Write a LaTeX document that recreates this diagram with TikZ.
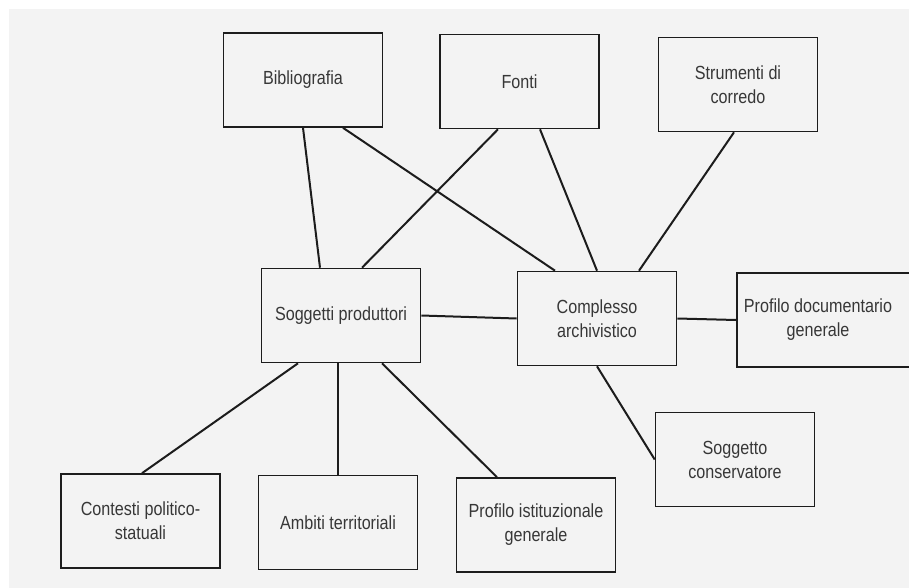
\documentclass[tikz,border=0pt]{standalone}
\usepackage{fontspec}
\setmainfont{Liberation Sans}[FakeStretch=0.85]
\definecolor{bgc}{RGB}{243,243,243}
\definecolor{linec}{RGB}{28,28,28}
\definecolor{textc}{RGB}{55,55,55}
\begin{document}
\begin{tikzpicture}[x=1pt,y=-1pt,
  box/.style={draw=linec, line width=1.6pt, minimum width=159pt, minimum height=94pt,
              inner sep=0pt, align=center, text=textc, font=\fontsize{19}{24}\selectfont},
  txt/.style={inner sep=0pt, align=center, text=textc, font=\fontsize{19}{24}\selectfont},
  link/.style={draw=linec, line width=2pt}]
\useasboundingbox (0,0) rectangle (909,588);
\fill[white] (0,0) rectangle (909,588);
\fill[bgc] (9,9) rectangle (909,588);
\begin{scope}
\clip (0,0) rectangle (909,588);
% top row
\node[box] (bib) at (303,80) {Bibliografia};
\node[box] (fonti) at (519.5,81.5) {Fonti};
\node[box] (strum) at (738,84.5) {Strumenti di\\corredo};
% middle row
\node[box] (sogg) at (341,315.5) {Soggetti produttori};
\node[box] (compl) at (597,318.5) {Complesso\\archivistico};
\node[box, minimum width=200pt, anchor=west] (pdoc) at (736,320) {};
\node[txt] (pdoct) at (818,320) {Profilo documentario\\generale};
% lower
\node[box] (scons) at (735,459.5) {Soggetto\\conservatore};
\node[box] (cont) at (140.5,521) {Contesti politico-\\statuali};
\node[box] (ambiti) at (338,522.5) {Ambiti territoriali};
\node[box] (pist) at (536,525) {Profilo istituzionale\\generale};
% connectors
\draw[link] (bib.south) -- ([xshift=-21pt]sogg.north);
\draw[link] ([xshift=40pt]bib.south) -- ([xshift=-42pt]compl.north);
\draw[link] ([xshift=-21.5pt]fonti.south) -- ([xshift=21pt]sogg.north);
\draw[link] ([xshift=20.5pt]fonti.south) -- (compl.north);
\draw[link] ([xshift=-4pt]strum.south) -- ([xshift=42pt]compl.north);
\draw[link] (sogg.east) -- (compl.west);
\draw[link] (compl.east) -- (pdoc.west);
\draw[link] (compl.south) -- (scons.west);
\draw[link] ([xshift=-43pt]sogg.south) -- ([xshift=1.5pt]cont.north);
\draw[link] ([xshift=-3pt]sogg.south) -- (ambiti.north);
\draw[link] ([xshift=41pt]sogg.south) -- ([xshift=-39pt]pist.north);
\end{scope}
\end{tikzpicture}
\end{document}
